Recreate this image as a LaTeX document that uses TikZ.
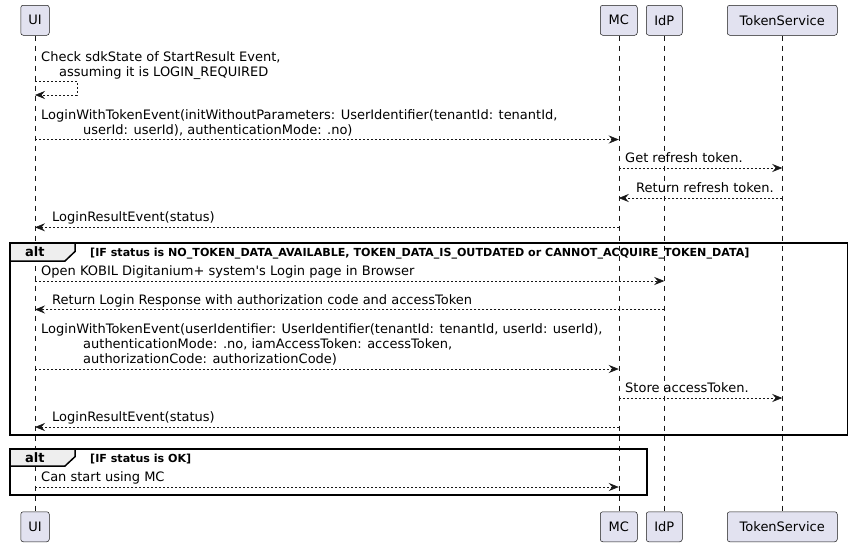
\documentclass[tikz,border=0pt]{standalone}
\usepackage{fontspec}
\setmainfont{DejaVu Sans}
\usetikzlibrary{arrows.meta}
\definecolor{pfill}{HTML}{E2E2F0}
\definecolor{pline}{HTML}{181818}
\definecolor{tabfill}{HTML}{EEEEEE}
\begin{document}
\begin{tikzpicture}[x=1pt,y=-1pt,
 part/.style={draw=pline, fill=pfill, rounded corners=2.5pt, line width=0.5pt, minimum height=30pt, inner sep=0pt, font=\fontsize{13}{15}\selectfont, anchor=north west},
 life/.style={draw=pline, line width=0.5pt, dash pattern=on 5pt off 5pt},
 msg/.style={draw=pline, line width=1pt, dash pattern=on 2pt off 2pt, -{Stealth[length=10pt,width=8pt,inset=3.5pt,fill=pline,line width=0.6pt]}},
 lbl/.style={font=\fontsize{13}{15}\selectfont, inner sep=0pt, anchor=base west, text=black},
 frm/.style={draw=black, line width=1.5pt},
 tabtxt/.style={font=\fontsize{13}{15}\selectfont\bfseries, inner sep=0pt, anchor=base west},
 cond/.style={font=\fontsize{11.1}{13}\selectfont\bfseries, inner sep=0pt, anchor=base west},
]
\useasboundingbox (0,0) rectangle (851,546);
% participants
\node[part, minimum width=28.5pt] (ui) at (20.5,5) {UI};
\node[part, minimum width=37pt] (mc) at (600,5) {MC};
\node[part, minimum width=36pt] (idp) at (646,5) {IdP};
\node[part, minimum width=110pt] (ts) at (727,5) {TokenService};
\node[part, minimum width=28.5pt] (uib) at (20.5,511.5) {UI};
\node[part, minimum width=37pt] (mcb) at (600,511.5) {MC};
\node[part, minimum width=36pt] (idpb) at (646,511.5) {IdP};
\node[part, minimum width=110pt] (tsb) at (727,511.5) {TokenService};
% lifelines
\draw[life] (ui.south) -- (uib.north);
\draw[life] (mc.south) -- (mcb.north);
\draw[life] (idp.south) -- (idpb.north);
\draw[life] (ts.south) -- (tsb.north);
% frames
\draw[frm] (10,243) rectangle (847.5,435);
\draw[frm, fill=tabfill] (10,243) -- (75,243) -- (75,251.5) -- (65,261) -- (10,261) -- cycle;
\node[tabtxt] (alt1) at (25,256.3) {alt};
\node[cond] (c1) at (90,256) {[IF status is NO\_TOKEN\_DATA\_AVAILABLE, TOKEN\_DATA\_IS\_OUTDATED or CANNOT\_ACQUIRE\_TOKEN\_DATA]};
\draw[frm] (10,449) rectangle (647,495);
\draw[frm, fill=tabfill] (10,449) -- (75,449) -- (75,456.7) -- (65,466) -- (10,466) -- cycle;
\node[tabtxt] (alt2) at (25,462.3) {alt};
\node[cond] (c2) at (90,462) {[IF status is OK]};
% self message
\node[lbl] (t1a) at (41,61) {Check sdkState of StartResult Event,};
\node[lbl] (t1b) at (59,76) {assuming it is LOGIN\_REQUIRED};
\draw[msg] (ui.south |- 0,81) -- ++(42,0) -- ++(0,14) -- (ui.south |- 0,95);
% message 2
\node[lbl] (t2a) at (41,119.5) {LoginWithTokenEvent(initWithoutParameters: UserIdentifier(tenantId: tenantId,};
\node[lbl] (t2b) at (83,134.5) {userId: userId), authenticationMode: .no)};
\draw[msg] (ui.south |- 0,139.5) -- (mc.south |- 0,139.5);
% message 3
\node[lbl] (t3) at (625,162.5) {Get refresh token.};
\draw[msg] (mc.south |- 0,168) -- (ts.south |- 0,168);
% message 4
\node[lbl] (t4) at (636,192.5) {Return refresh token.};
\draw[msg] (ts.south |- 0,198) -- (mc.south |- 0,198);
% message 5
\node[lbl] (t5) at (52,221.8) {LoginResultEvent(status)};
\draw[msg] (mc.south |- 0,227.3) -- (ui.south |- 0,227.3);
% message 6
\node[lbl] (t6) at (41,275.5) {Open KOBIL Digitanium+ system\textquotesingle s Login page in Browser};
\draw[msg] (ui.south |- 0,281) -- (idp.south |- 0,281);
% message 7
\node[lbl] (t7) at (52,304) {Return Login Response with authorization code and accessToken};
\draw[msg] (idp.south |- 0,309.5) -- (ui.south |- 0,309.5);
% message 8
\node[lbl] (t8a) at (41,333.5) {LoginWithTokenEvent(userIdentifier: UserIdentifier(tenantId: tenantId, userId: userId),};
\node[lbl] (t8b) at (83,348.5) {authenticationMode: .no, iamAccessToken: accessToken,};
\node[lbl] (t8c) at (83,363.5) {authorizationCode: authorizationCode)};
\draw[msg] (ui.south |- 0,369) -- (mc.south |- 0,369);
% message 9
\node[lbl] (t9) at (625,392.5) {Store accessToken.};
\draw[msg] (mc.south |- 0,398) -- (ts.south |- 0,398);
% message 10
\node[lbl] (t10) at (52,421.5) {LoginResultEvent(status)};
\draw[msg] (mc.south |- 0,427) -- (ui.south |- 0,427);
% message 11
\node[lbl] (t11) at (41,481.5) {Can start using MC};
\draw[msg] (ui.south |- 0,487) -- (mc.south |- 0,487);
\end{tikzpicture}
\end{document}
